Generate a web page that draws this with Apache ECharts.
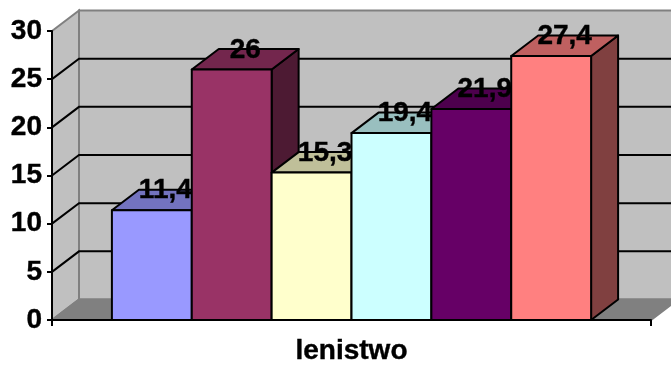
<!DOCTYPE html>
<html><head><meta charset="utf-8">
<style>html,body{margin:0;padding:0;background:#fff}#c{width:671px;height:365px}</style>
<script src="https://cdn.jsdelivr.net/npm/echarts@6/dist/echarts.min.js"></script>
</head><body><div id="c"></div>
<script>
const categories = ['lenistwo'];
const seriesNames = ['A','B','C','D','E','F'];
const seriesValues = [11.4, 26, 15.3, 19.4, 21.9, 27.4];
const seriesLabels = ['11,4','26','15,3','19,4','21,9','27,4'];
const frontColors = ['#9999FF','#993366','#FFFFCC','#CCFFFF','#660066','#FF8080'];
const topColors = ['#7373BF','#73264D','#BFBF99','#99BFBF','#4D004D','#BF6060'];
const sideColors = ['#4D4D80','#4D1A33','#808066','#668080','#330033','#804040'];
const yTicks = [5,10,15,20,25];
const yMin = 0, yMax = 30, yStep = 5;
const DX = 27, DY = 20.5;
const FONT = '"Liberation Sans", Arial, sans-serif';
const chart = echarts.init(document.getElementById('c'), null, {renderer:'canvas'});

function wallItem(params, api){
  const o = api.coord([0,yMin]), t = api.coord([0,yMax]);
  const band = api.size([1,0])[0];
  const x0 = o[0]-band/2, x1 = o[0]+band/2, y0 = o[1], y1 = t[1];
  const children = [];
  children.push({type:'polygon',shape:{points:[[x0+DX,y1-DY],[x1+DX,y1-DY],[x1+DX,y0-DY],[x0+DX,y0-DY]]},style:{fill:'#C0C0C0',stroke:'#808080',lineWidth:2}});
  children.push({type:'polygon',shape:{points:[[x0,y1],[x0+DX,y1-DY],[x0+DX,y0-DY],[x0,y0]]},style:{fill:'#C0C0C0',stroke:'#808080',lineWidth:2}});
  children.push({type:'polygon',shape:{points:[[x0,y0],[x0+DX,y0-DY],[x1+DX,y0-DY],[x1,y0]]},style:{fill:'#808080',stroke:'#808080',lineWidth:2}});
  yTicks.forEach(v=>{
    const y = api.coord([0,v])[1];
    children.push({type:'polyline',shape:{points:[[x0,y],[x0+DX,y-DY],[x1+DX,y-DY]]},style:{fill:null,stroke:'#000',lineWidth:2}});
  });
  return {type:'group',children};
}
function barItem(i){
  return function(params, api){
    const val = api.value(1);
    const o = api.coord([api.value(0),0]), t = api.coord([api.value(0),val]);
    const band = api.size([1,0])[0];
    const w = band*0.8/seriesValues.length;
    const l = o[0]-band*0.4+i*w, r = l+w, b = o[1], y = t[1];
    const ln = {stroke:'#000',lineWidth:2,lineJoin:'round'};
    return {type:'group',children:[
      {type:'polygon',shape:{points:[[r,b],[r+DX,b-DY],[r+DX,y-DY],[r,y]]},style:Object.assign({fill:sideColors[i]},ln)},
      {type:'polygon',shape:{points:[[l,y],[l+DX,y-DY],[r+DX,y-DY],[r,y]]},style:Object.assign({fill:topColors[i]},ln)},
      {type:'rect',shape:{x:l,y:y,width:w,height:b-y},style:Object.assign({fill:frontColors[i]},ln)},
      {type:'text',x:(l+r)/2+DX/2,y:y-DY+1,style:{text:seriesLabels[i],fill:'#000',stroke:'#000',lineWidth:0.4,font:'bold 28px '+FONT,align:'center',verticalAlign:'middle'}}
    ]};
  };
}
const series = [{type:'custom',name:'walls',silent:true,z:1,data:[[0,0]],renderItem:wallItem,encode:{x:0,y:1}}];
seriesValues.forEach((v,i)=>{
  series.push({type:'custom',name:seriesNames[i],z:2,data:[[0,v]],renderItem:barItem(i),encode:{x:0,y:1}});
});
chart.setOption({
  animation:false,
  backgroundColor:'#fff',
  grid:{left:52,right:20,top:31,bottom:45,containLabel:false,outerBoundsMode:'none'},
  xAxis:{type:'category',data:categories,z:5,
    axisLine:{show:true,lineStyle:{color:'#000',width:2}},
    axisTick:{show:true,length:6,lineStyle:{color:'#000',width:2}},
    axisLabel:{color:'#000',fontFamily:FONT,fontWeight:'bold',fontSize:28,margin:17,textBorderColor:'#000',textBorderWidth:0.4},
    splitLine:{show:false}},
  yAxis:{type:'value',min:yMin,max:yMax,interval:yStep,z:5,
    axisLine:{show:true,lineStyle:{color:'#000',width:2}},
    axisTick:{show:true,length:5,lineStyle:{color:'#000',width:2}},
    axisLabel:{color:'#000',fontFamily:FONT,fontWeight:'bold',fontSize:28,margin:10,padding:[6,0,0,0],textBorderColor:'#000',textBorderWidth:0.4},
    splitLine:{show:false}},
  series
});
</script></body></html>
